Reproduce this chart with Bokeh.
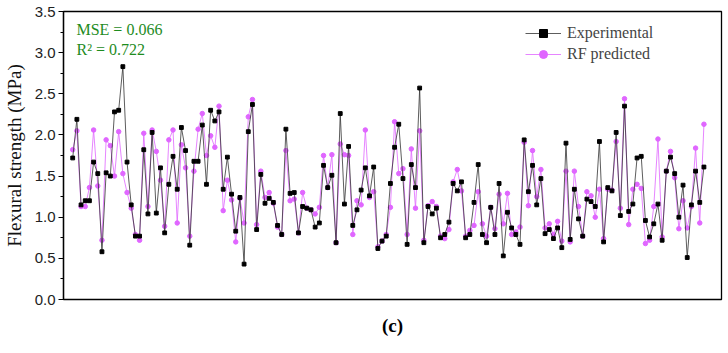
from bokeh.plotting import figure
from bokeh.models import Label, Legend, LegendItem, FixedTicker, Range1d, Title
from bokeh.embed import file_html
from bokeh.resources import INLINE

experimental = [1.72, 2.19, 1.15, 1.20, 1.20, 1.67, 1.53, 0.58, 1.54, 1.50, 2.28, 2.30, 2.83, 1.67, 1.15, 0.77, 0.77, 1.82, 1.04, 2.03, 1.05, 1.60, 0.81, 1.40, 1.74, 1.34,
                2.09, 1.81, 0.66, 1.68, 1.68, 2.12, 1.40, 2.30, 2.17, 2.28, 1.34, 1.73, 1.28, 0.83, 1.24, 0.43, 2.04, 2.37, 0.85, 1.52, 1.17, 1.23, 1.18, 0.90, 0.79, 2.07, 1.29,
                1.30, 0.81, 1.13, 1.11, 1.09, 0.88, 0.93, 1.63, 1.36, 1.51, 0.69, 2.26, 1.16, 1.86, 0.90, 1.09, 1.33, 1.60, 1.26, 1.61, 0.62, 0.71, 0.77, 1.41, 1.85, 2.13,
                1.47, 0.67, 1.64, 1.36, 2.57, 0.69, 1.13, 1.04, 1.11, 0.75, 0.79, 0.94, 1.41, 1.32, 1.43, 0.75, 0.79, 1.18, 1.64, 0.79, 0.69, 1.12, 0.79, 1.41, 0.53, 1.06,
                0.87, 0.79, 0.67, 1.94, 1.31, 1.63, 1.15, 1.47, 0.80, 0.85, 0.74, 0.87, 0.63, 1.90, 0.73, 1.34, 0.98, 0.77, 1.22, 1.19, 1.13, 1.92, 0.70, 1.36, 1.32, 2.03,
                1.02, 2.35, 1.07, 1.16, 1.72, 1.74, 0.96, 0.76, 0.92, 1.16, 0.72, 1.56, 1.73, 1.53, 1.00, 1.39, 0.51, 1.15, 1.56, 1.18, 1.61]

rf_predicted = [1.82, 2.05, 1.13, 1.13, 1.36, 2.06, 1.38, 0.72, 1.94, 1.87, 1.50, 2.04, 1.53, 1.30, 1.11, 0.79, 0.72, 2.02, 1.13, 2.06, 1.80, 1.45, 0.89, 1.94, 2.06, 0.93,
                1.88, 1.60, 0.77, 1.56, 2.07, 2.26, 1.75, 1.99, 1.85, 2.35, 1.08, 1.45, 1.21, 0.70, 1.23, 0.93, 2.22, 2.43, 0.91, 1.56, 1.24, 1.30, 1.17, 0.88, 0.79, 1.81, 1.20,
                1.22, 0.81, 1.30, 1.11, 1.09, 1.04, 1.12, 1.75, 1.36, 1.76, 0.69, 1.89, 1.76, 1.75, 0.79, 1.20, 1.15, 2.06, 1.24, 1.31, 0.64, 0.71, 0.79, 1.12, 2.16, 1.53,
                1.59, 0.79, 1.83, 1.11, 2.05, 0.72, 1.14, 1.19, 1.13, 0.77, 0.74, 0.85, 1.43, 1.58, 1.32, 0.77, 0.84, 0.90, 1.31, 0.92, 0.77, 1.12, 0.86, 1.28, 0.92, 1.29,
                0.79, 0.82, 0.88, 1.91, 1.14, 1.81, 1.25, 1.58, 0.87, 0.92, 0.79, 0.95, 0.71, 1.56, 0.70, 1.56, 1.13, 0.77, 1.31, 1.26, 1.00, 1.34, 0.74, 1.34, 1.33, 1.92,
                1.11, 2.44, 0.91, 1.34, 1.40, 1.35, 0.68, 0.72, 1.13, 1.95, 0.76, 1.56, 1.80, 1.48, 0.86, 1.20, 0.87, 1.13, 1.84, 0.93, 2.13]

y_ticks = [0.0, 0.5, 1.0, 1.5, 2.0, 2.5, 3.0, 3.5]
sample_index = list(range(1, len(experimental) + 1))

BLACK = "#000000"
PINK = "#E066FF"
GREEN = "#1E8C1E"

p = figure(width=728, height=353, output_backend="svg", toolbar_location=None,
           x_range=Range1d(-1.2, 156.2), y_range=Range1d(0, 3.5),
           min_border_left=63, min_border_right=7, min_border_top=11, min_border_bottom=54)

p.xaxis.visible = False
p.xgrid.visible = False
p.ygrid.visible = False
p.outline_line_color = "black"
p.outline_line_width = 1.3
p.outline_line_alpha = 1.0

ya = p.yaxis[0]
ya.ticker = FixedTicker(ticks=y_ticks, minor_ticks=[0.25 + 0.5 * i for i in range(7)])
ya.major_label_overrides = {t: f"{t:.1f}" for t in y_ticks}
ya.major_tick_out = 5
ya.major_tick_in = 0
ya.minor_tick_out = 3
ya.minor_tick_in = 0
ya.axis_line_width = 1.3
ya.major_label_text_font = "Liberation Sans"
ya.major_label_text_font_size = "15px"
ya.major_label_text_color = "#222222"
ya.major_label_standoff = 3
ya.axis_label = "Flexural strength (MPa)"
ya.axis_label_text_font = "Liberation Serif"
ya.axis_label_text_font_style = "normal"
ya.axis_label_text_font_size = "19px"
ya.axis_label_text_color = "#111111"
ya.axis_label_standoff = 7

# predicted series
pl = p.line(sample_index, rf_predicted, line_color=PINK, line_width=0.8)
pm = p.scatter(sample_index, rf_predicted, marker="circle", size=4.5, fill_color=PINK, line_color=PINK)
# experimental series
el = p.line(sample_index, experimental, line_color="#333333", line_width=0.8)
em = p.scatter(sample_index, experimental, marker="square", size=3.8, fill_color=BLACK, line_color=BLACK)

legend = Legend(items=[LegendItem(label="Experimental", renderers=[el, em]),
                       LegendItem(label="RF predicted", renderers=[pl, pm])],
                location=(462, 235))
legend.border_line_color = None
legend.background_fill_alpha = 0
legend.label_text_font = "Liberation Serif"
legend.label_text_font_size = "16px"
legend.glyph_width = 36
legend.label_standoff = 6
legend.padding = 5
legend.spacing = 1
p.add_layout(legend, "center")

p.add_layout(Label(x=1.9, y=3.285, text="MSE = 0.066", text_font="Liberation Serif",
                   text_font_size="16px", text_color=GREEN, text_baseline="middle"))
p.add_layout(Label(x=1.9, y=3.035, text="R\u00b2 = 0.722", text_font="Liberation Serif",
                   text_font_size="16px", text_color=GREEN, text_baseline="middle"))

p.add_layout(Title(text="(c)", align="center", offset=-28, standoff=27,
                   text_font="Liberation Serif", text_font_size="19px",
                   text_font_style="bold", text_color="black"), "below")

open("out.html", "w").write(file_html(p, INLINE))
